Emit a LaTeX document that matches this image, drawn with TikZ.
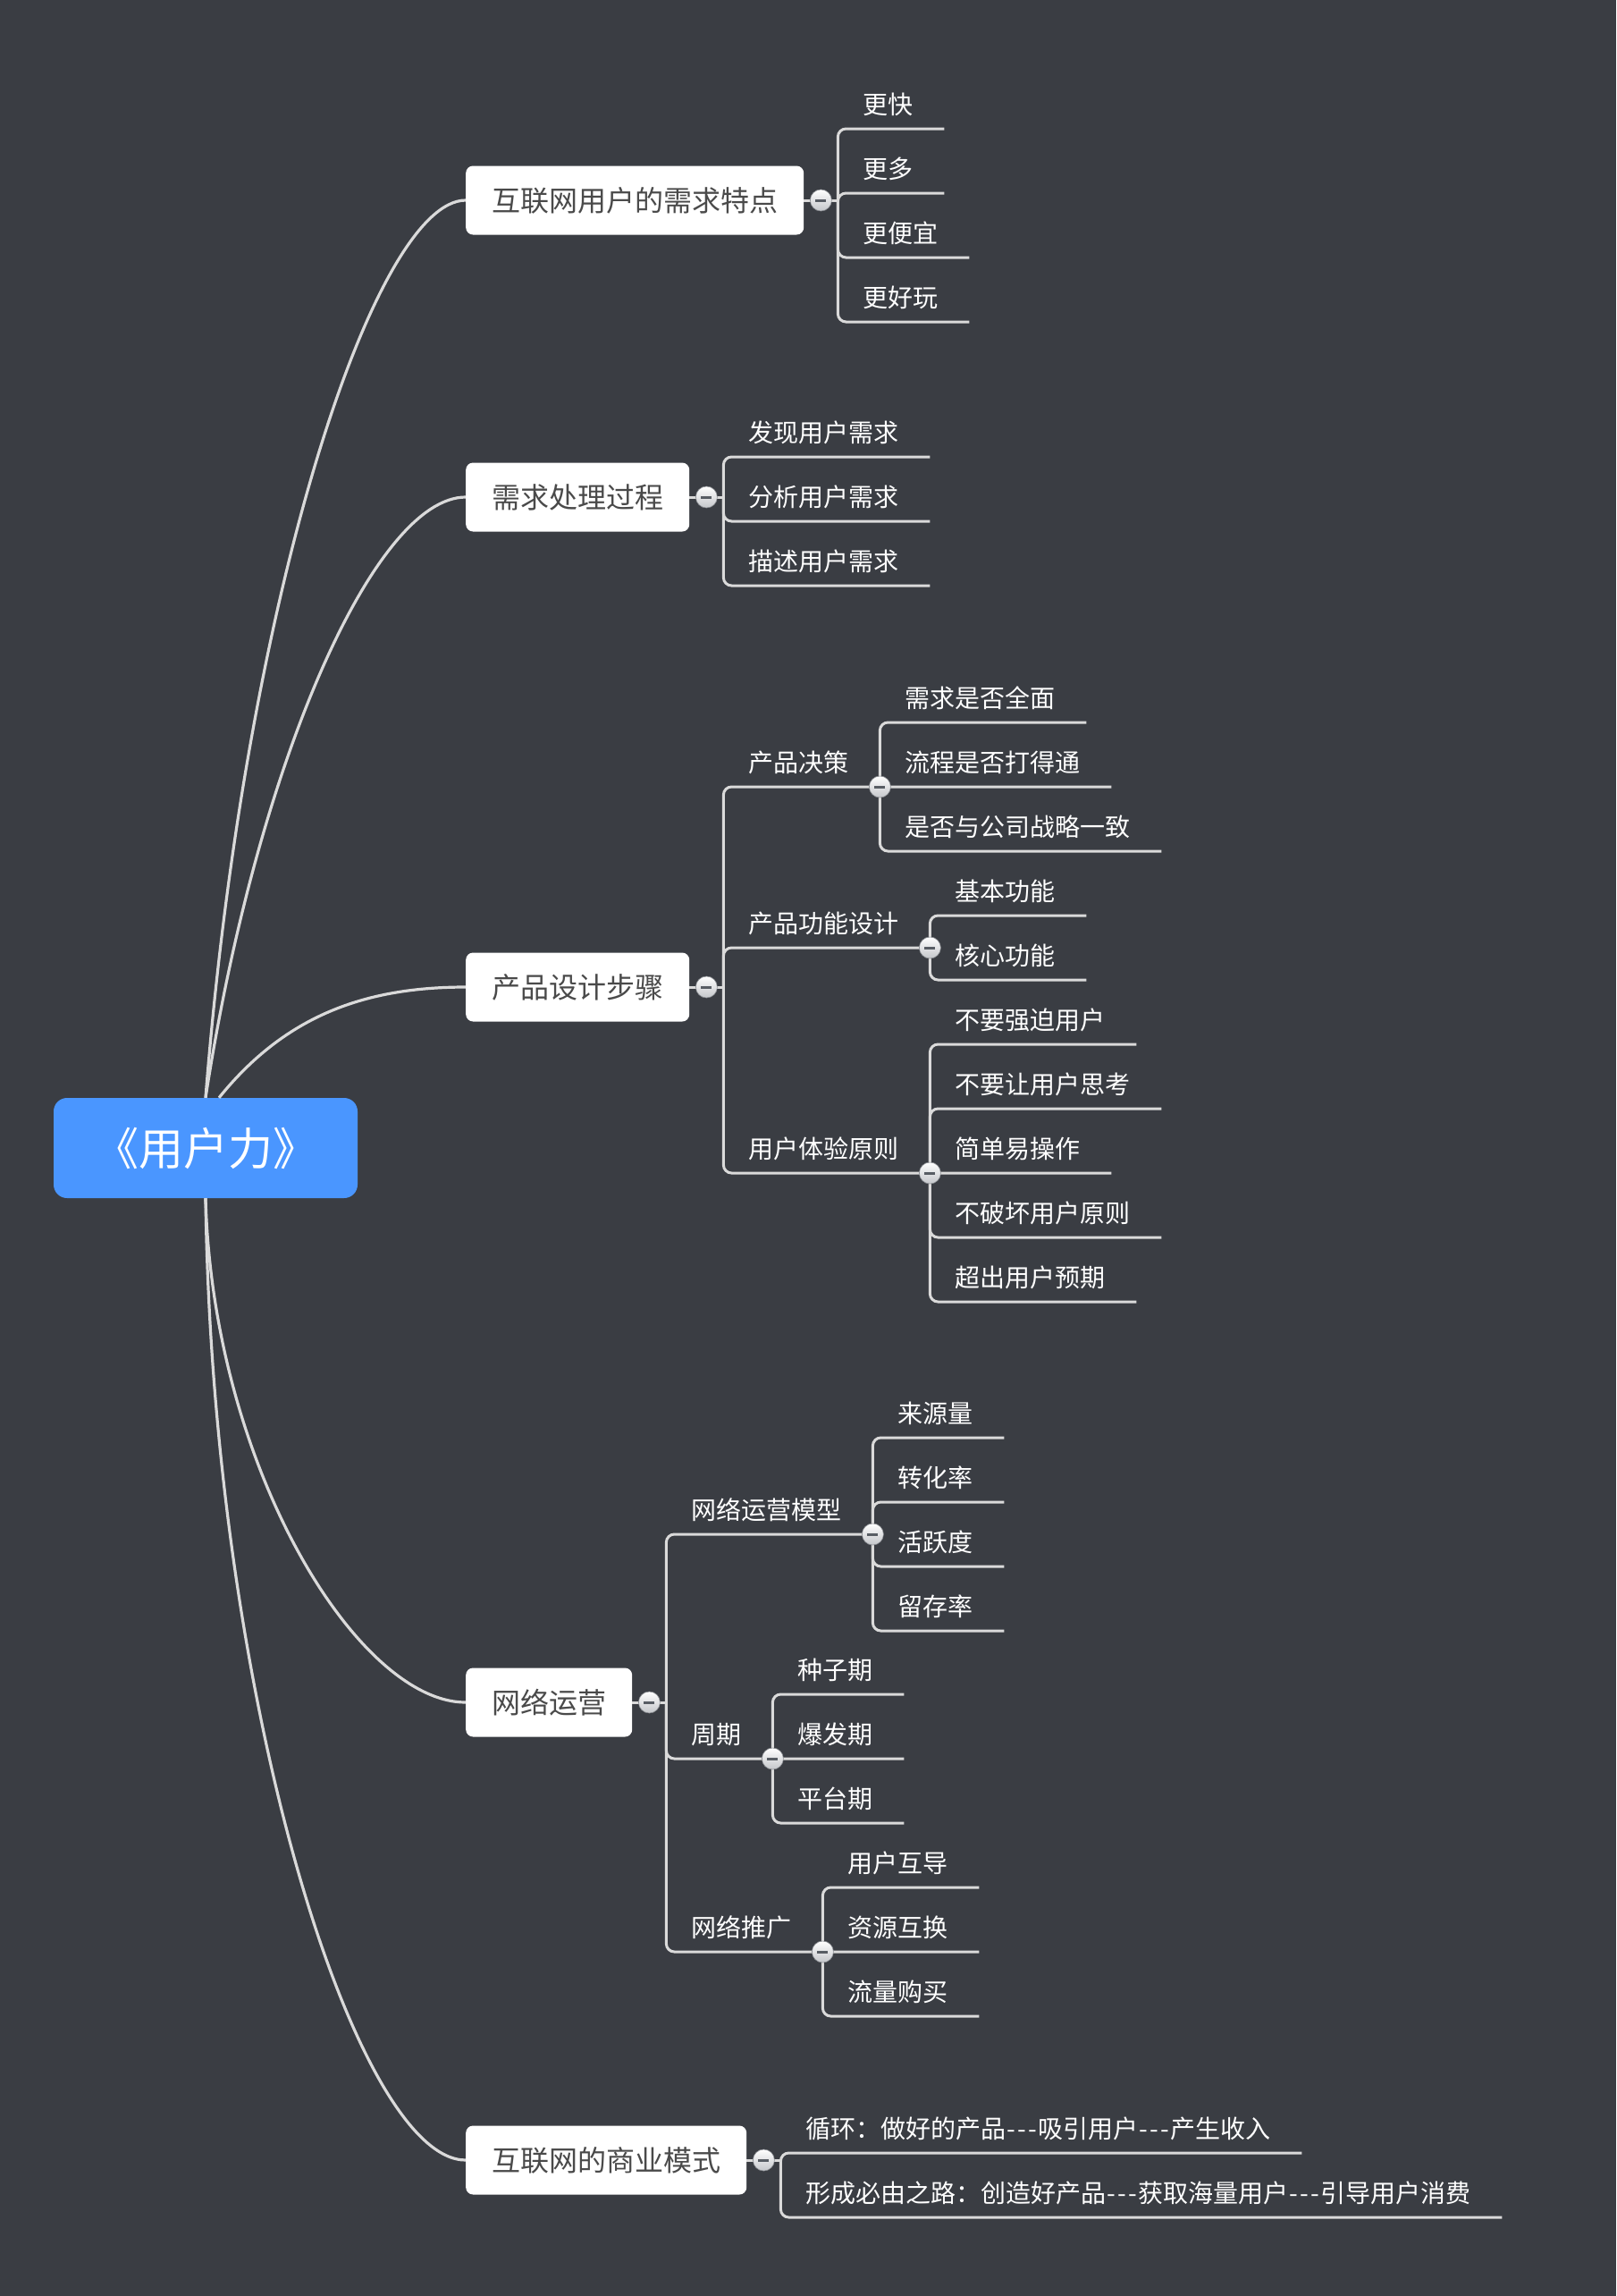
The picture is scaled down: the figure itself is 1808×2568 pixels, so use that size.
\documentclass[tikz,border=0pt]{standalone}
\usepackage{fontspec}
\newfontfamily\cjk{Noto Sans CJK SC}
\newcommand\hy{\makebox[12pt]{-}}
\definecolor{bg}{RGB}{58,61,67}
\definecolor{lnc}{RGB}{218,218,218}
\definecolor{rootc}{RGB}{74,150,255}
\definecolor{btxt}{RGB}{74,74,74}
\definecolor{minusc}{RGB}{88,93,100}
\definecolor{btnbot}{RGB}{196,198,202}
\definecolor{btnedge}{RGB}{140,143,148}
\tikzset{
 conn/.style={draw=lnc, line width=3pt, rounded corners=9pt},
 rootline/.style={draw=lnc, line width=3.2pt},
 rootbox/.style={fill=rootc, rounded corners=15pt, minimum width=340pt, minimum height=112pt, text=white, font=\cjk\fontsize{50pt}{58pt}\selectfont, text height=38pt, text depth=0pt, inner sep=0pt},
 bbox/.style={fill=white, rounded corners=8pt, anchor=west, minimum height=77pt, inner xsep=29pt, inner ysep=0pt, text=btxt, font=\cjk\fontsize{32pt}{38pt}\selectfont, text height=24pt, text depth=0pt},
 leaf/.style={anchor=south west, inner sep=0pt, text=white, font=\cjk\fontsize{28pt}{34pt}\selectfont, text height=24pt, text depth=16pt, execute at begin node={\hspace*{28pt}}, execute at end node={\hspace*{35pt}}},
 btn/.style={circle, minimum size=24pt, inner sep=0pt, top color=white, bottom color=btnbot, draw=btnedge, line width=0.6pt, path picture={\fill[minusc] ([xshift=-6pt,yshift=-1.5pt]path picture bounding box.center) rectangle ([xshift=6pt,yshift=1.5pt]path picture bounding box.center);}},
}
\begin{document}
\begin{tikzpicture}[x=1pt,y=-1pt]
\useasboundingbox (0,0) rectangle (1808,2568);
\fill[bg] (0,0) rectangle (1808,2568);

% root and main branches
\node[rootbox] (root) at (230,1284) {《用户力》};
\node[bbox] (b1) at (521,224) {互联网用户的需求特点};
\node[bbox] (b2) at (521,556) {需求处理过程};
\node[bbox] (b3) at (521,1104) {产品设计步骤};
\node[bbox] (b4) at (521,1904) {网络运营};
\node[bbox] (b5) at (521,2416) {互联网的商业模式};

\coordinate (j1) at ([xshift=38pt]b1.east);
\coordinate (j2) at ([xshift=38pt]b2.east);
\coordinate (j3) at ([xshift=38pt]b3.east);
\coordinate (j4) at ([xshift=38pt]b4.east);
\coordinate (j5) at ([xshift=38pt]b5.east);

% branch 1
\node[leaf] (c11) at (937,144) {更快};
\node[leaf] (c12) at (937,216) {更多};
\node[leaf] (c13) at (937,288) {更便宜};
\node[leaf] (c14) at (937,360) {更好玩};

% branch 2
\node[leaf] (c21) at (809,511) {发现用户需求};
\node[leaf] (c22) at (809,583) {分析用户需求};
\node[leaf] (c23) at (809,655) {描述用户需求};

% branch 3
\node[leaf] (s31) at (809,880) {产品决策};
\node[leaf] (s32) at (809,1060) {产品功能设计};
\node[leaf] (s33) at (809,1312) {用户体验原则};
\coordinate (k31) at (s31.south east);
\coordinate (k32) at (s32.south east);
\coordinate (k33) at (s33.south east);
\node[leaf] (c311) at (984,808) {需求是否全面};
\node[leaf] (c312) at (984,880) {流程是否打得通};
\node[leaf] (c313) at (984,952) {是否与公司战略一致};
\node[leaf] (c321) at (1040,1024) {基本功能};
\node[leaf] (c322) at (1040,1096) {核心功能};
\node[leaf] (c331) at (1040,1168) {不要强迫用户};
\node[leaf] (c332) at (1040,1240) {不要让用户思考};
\node[leaf] (c333) at (1040,1312) {简单易操作};
\node[leaf] (c334) at (1040,1384) {不破坏用户原则};
\node[leaf] (c335) at (1040,1456) {超出用户预期};

% branch 4
\node[leaf] (s41) at (745,1716) {网络运营模型};
\node[leaf] (s42) at (745,1967) {周期};
\node[leaf] (s43) at (745,2183) {网络推广};
\coordinate (k41) at (s41.south east);
\coordinate (k42) at (s42.south east);
\coordinate (k43) at (s43.south east);
\node[leaf] (c411) at (976,1608) {来源量};
\node[leaf] (c412) at (976,1680) {转化率};
\node[leaf] (c413) at (976,1752) {活跃度};
\node[leaf] (c414) at (976,1824) {留存率};
\node[leaf] (c421) at (864,1895) {种子期};
\node[leaf] (c422) at (864,1967) {爆发期};
\node[leaf] (c423) at (864,2039) {平台期};
\node[leaf] (c431) at (920,2111) {用户互导};
\node[leaf] (c432) at (920,2183) {资源互换};
\node[leaf] (c433) at (920,2255) {流量购买};

% branch 5
\node[leaf] (c51) at (873,2408) {循环：做好的产品\hy\hy\hy 吸引用户\hy\hy\hy 产生收入};
\node[leaf] (c52) at (873,2480) {形成必由之路：创造好产品\hy\hy\hy 获取海量用户\hy\hy\hy 引导用户消费};

% root curves
\draw[rootline] (root.north) .. controls +(45,-570) and +(-100,0) .. (b1.west);
\draw[rootline] (root.north) .. controls +(58,-378) and +(-101,0) .. (b2.west);
\draw[rootline] ([xshift=15pt]root.north) .. controls +(75,-93) and +(-111,0) .. (b3.west);
\draw[rootline] (root.south) .. controls +(8,300) and +(-121,0) .. (b4.west);
\draw[rootline] (root.south) .. controls +(8,570) and +(-121,0) .. (b5.west);

% branch connectors
\foreach \b in {1,...,5} {\draw[conn] (b\b.east) -- (j\b);}
\foreach \c in {c11,c12,c13,c14} {\draw[conn] (j1) |- (\c.south east);}
\foreach \c in {c21,c22,c23} {\draw[conn] (j2) |- (\c.south east);}
\foreach \c in {s31,s32,s33} {\draw[conn] (j3) |- (\c.south east);}
\foreach \c in {c311,c312,c313} {\draw[conn] (k31) |- (\c.south east);}
\foreach \c in {c321,c322} {\draw[conn] (k32) |- (\c.south east);}
\foreach \c in {c331,c332,c333,c334,c335} {\draw[conn] (k33) |- (\c.south east);}
\foreach \c in {s41,s42,s43} {\draw[conn] (j4) |- (\c.south east);}
\foreach \c in {c411,c412,c413,c414} {\draw[conn] (k41) |- (\c.south east);}
\foreach \c in {c421,c422,c423} {\draw[conn] (k42) |- (\c.south east);}
\foreach \c in {c431,c432,c433} {\draw[conn] (k43) |- (\c.south east);}
\foreach \c in {c51,c52} {\draw[conn] (j5) |- (\c.south east);}

% collapse buttons
\foreach \b in {1,...,5} {\node[btn] (bt\b) at ([xshift=19pt]b\b.east) {};}
\node[btn] (bt31) at (k31) {};
\node[btn] (bt32) at (k32) {};
\node[btn] (bt33) at (k33) {};
\node[btn] (bt41) at (k41) {};
\node[btn] (bt42) at (k42) {};
\node[btn] (bt43) at (k43) {};
\end{tikzpicture}
\end{document}
